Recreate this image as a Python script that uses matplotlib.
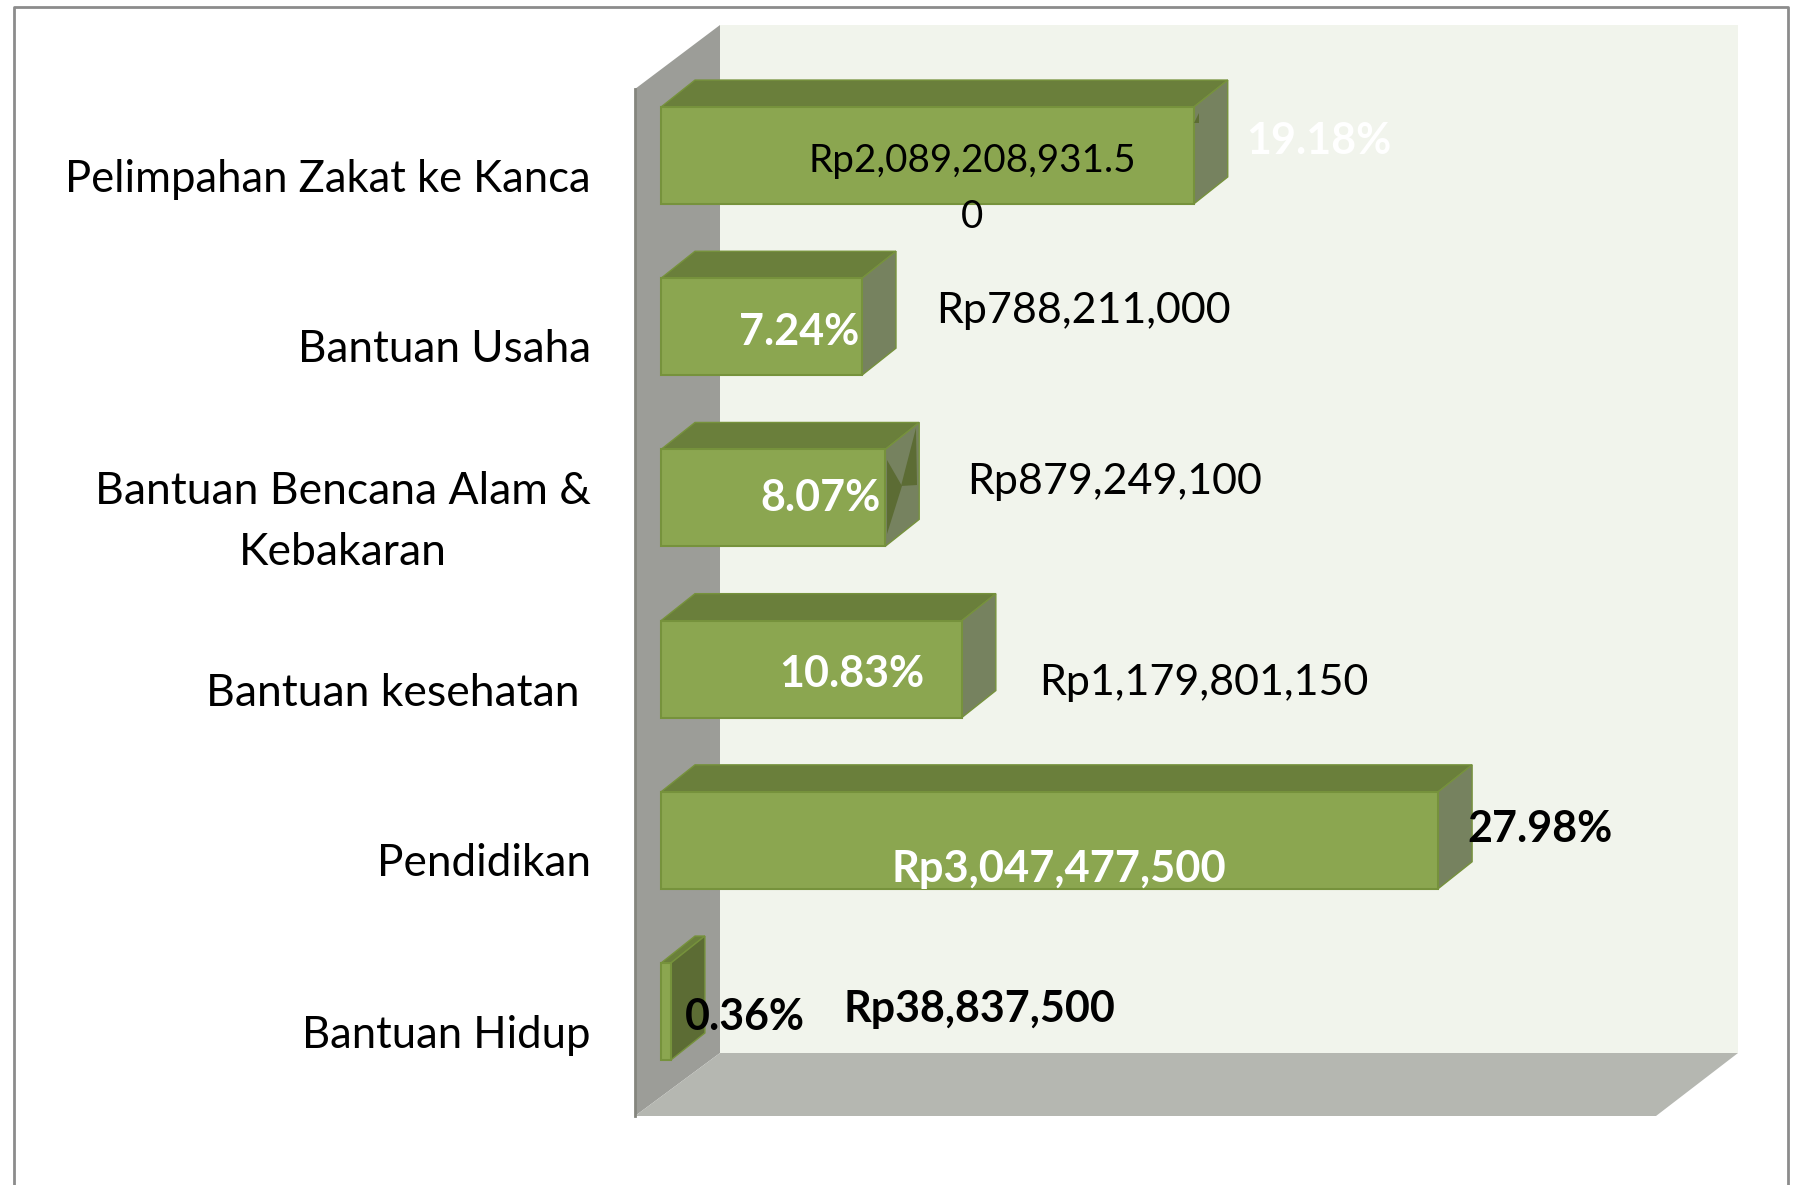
import matplotlib
matplotlib.use("Agg")
import matplotlib.pyplot as plt

plt.rcParams['font.family'] = ['Lato', 'DejaVu Sans']

categories = ["Pelimpahan Zakat ke Kanca", "Bantuan Usaha", "Bantuan Bencana Alam &\nKebakaran",
              "Bantuan kesehatan ", "Pendidikan", "Bantuan Hidup"]
values = [2089208931.5, 788211000, 879249100, 1179801150, 3047477500, 38837500]
value_labels = ["Rp2,089,208,931.5\n0", "Rp788,211,000", "Rp879,249,100",
                "Rp1,179,801,150", "Rp3,047,477,500", "Rp38,837,500"]
pct_labels = ["19.18%", "7.24%", "8.07%", "10.83%", "27.98%", "0.36%"]

W, H = 1798, 1185
FRONT, TOP, SIDE, EDGE = "#8ba650", "#6a7f3b", "#76825f", "#76923c"
DARK = "#5c6c34"

fig = plt.figure(figsize=(W / 100, H / 100), dpi=100, facecolor="white")

# pixel axes for the fake 3d room
bg = fig.add_axes([0, 0, 1, 1])
bg.set_xlim(0, W)
bg.set_ylim(H, 0)
bg.axis("off")
bg.fill([720, 1738, 1738, 720], [25, 25, 1053, 1053], color="#f1f4ec", lw=0)
bg.fill([635, 720, 720, 635], [89, 25, 1053, 1116], color="#9c9d98", lw=0)
bg.fill([635, 720, 1738, 1656], [1116, 1053, 1053, 1116], color="#b5b7b1", lw=0)
bg.plot([635, 635], [89, 1116], color="#85867f", lw=2)
bg.plot([14, 14, 1788, 1788], [H, 7, 7, H], color="#8c8c8c", lw=2)

# bars, 1 data unit in y is one row
k = 2.55e-7
row = 171.2
ax = fig.add_axes([0, 0, 1, 1])
ax.patch.set_alpha(0)
ax.axis("off")
ax.set_xlim(-661 / k, (W - 661) / k)
ax.set_ylim((H - 155.5) / row, -155.5 / row)

h = 0.283
dx, dy = 34 / k, 27 / row
for i, v in enumerate(values):
    top_c, side_c = TOP, SIDE
    if i == 5:
        side_c = DARK
    ax.fill([0, v, v + dx, dx], [i - h, i - h, i - h - dy, i - h - dy], color=top_c, ec=EDGE, lw=1)
    ax.fill([v, v + dx, v + dx, v], [i - h, i - h - dy, i + h - dy, i + h], color=side_c, ec=EDGE, lw=1)
    ax.barh(i, v, height=2 * h, color=FRONT, edgecolor=EDGE, linewidth=1.5)

# rendering glitches on the side of two bars
bg2 = fig.add_axes([0, 0, 1, 1])
bg2.patch.set_alpha(0)
bg2.axis("off")
bg2.set_xlim(0, W)
bg2.set_ylim(H, 0)
bg2.fill([916, 901, 917], [428, 486, 485], color=DARK, lw=0)
bg2.fill([887, 902, 887], [460, 486, 534], color=DARK, lw=0)
bg2.fill([1194, 1199, 1199], [123, 123, 113], color=DARK, lw=0)

cat_size = [31.4, 31.8, 32, 32, 31.8, 31.4]
for label, y, s in zip(categories, [180, 350, 522, 694, 864, 1036], cat_size):
    bg2.text(591, y, label, ha="right", va="center", fontsize=s, multialignment="center",
             color="black", linespacing=1.6)

value_pos = [(972, 189), (1083, 311), (1115, 482), (1204, 683), (1059, 869), (979, 1009)]
value_size = [27.8, 31, 31, 31, 31.2, 31]
value_bold = [False, False, False, False, True, True]
value_color = ["black", "black", "black", "black", "white", "black"]
for label, (x, y), s, b, c in zip(value_labels, value_pos, value_size, value_bold, value_color):
    bg2.text(x, y, label, ha="center", va="center", fontsize=s, color=c,
             fontweight="bold" if b else "normal", linespacing=1.68)

pct_pos = [(1319, 141), (799, 332), (820, 498), (852, 674), (1540, 829), (745, 1017)]
pct_color = ["white", "white", "white", "white", "black", "black"]
for label, (x, y), c in zip(pct_labels, pct_pos, pct_color):
    bg2.text(x, y, label, ha="center", va="center", fontsize=31, color=c, fontweight="bold")

fig.savefig("out.png", dpi=100)
